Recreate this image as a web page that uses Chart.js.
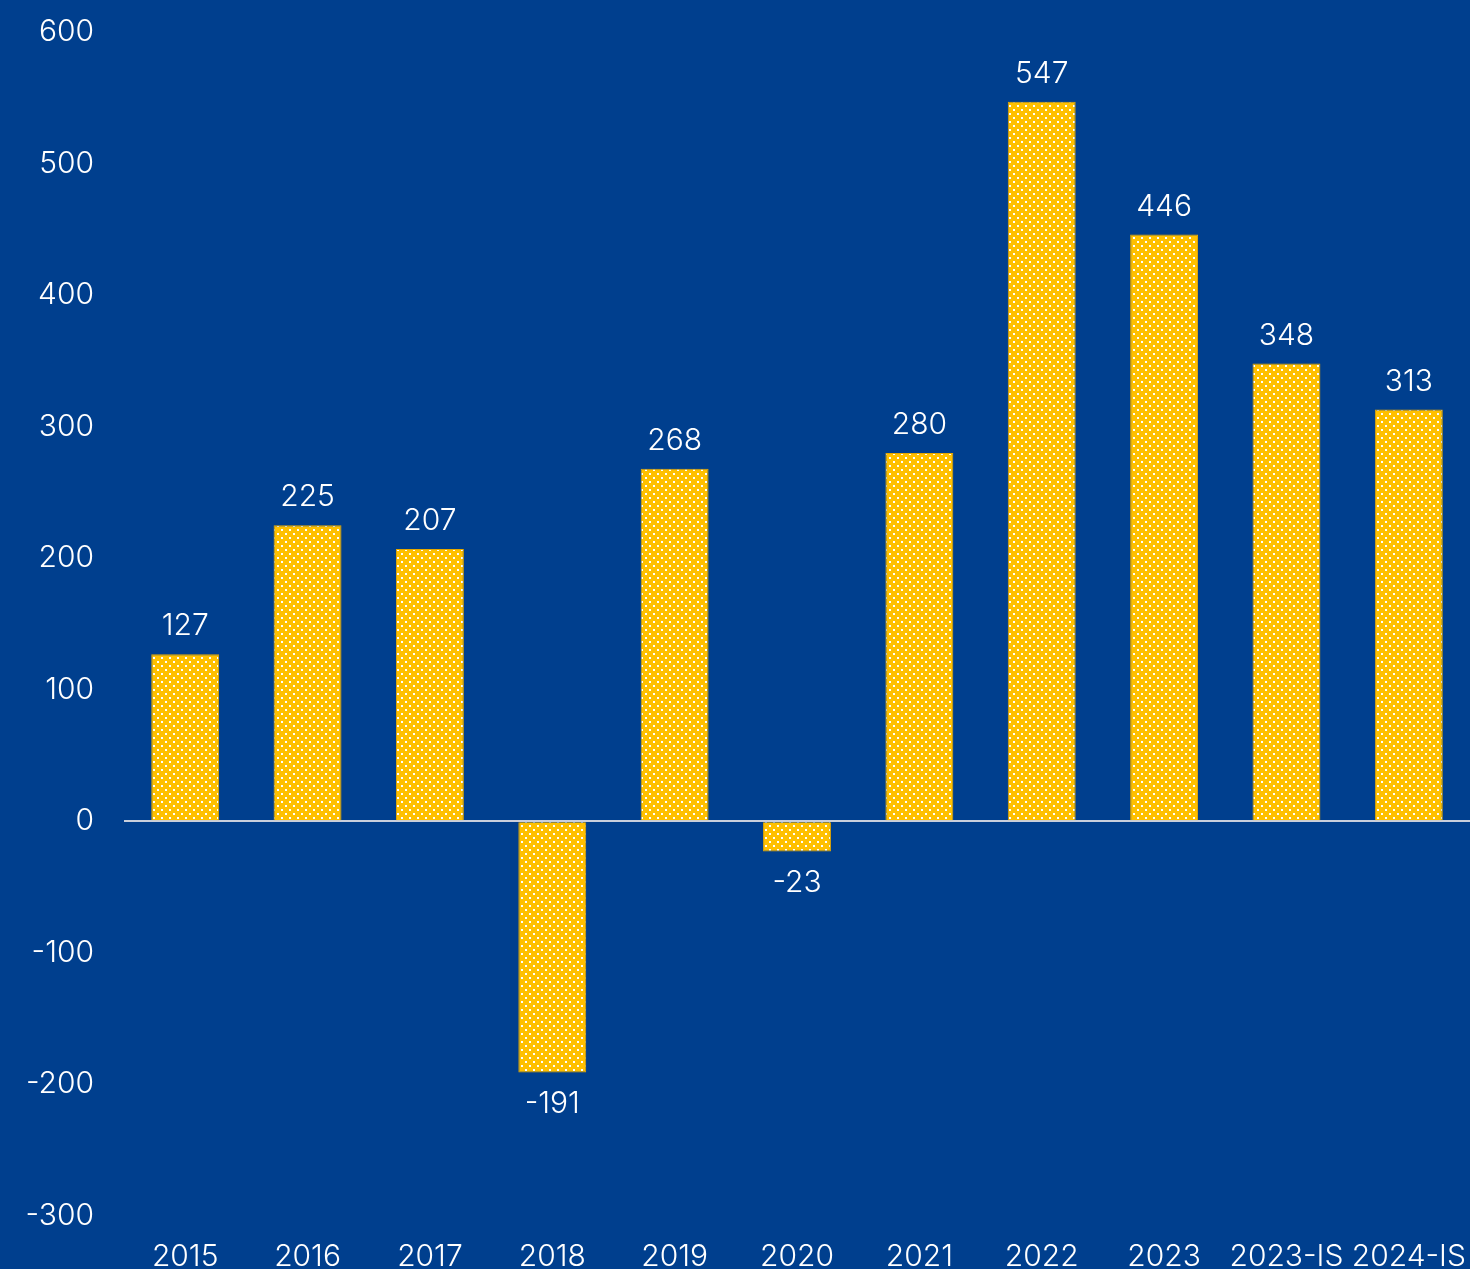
<!DOCTYPE html>
<html>
<head>
<meta charset="utf-8">
<script src="https://cdn.jsdelivr.net/npm/chart.js@4"></script>
<style>
  html, body { margin: 0; padding: 0; background: #003f8e; }
  #wrap { width: 1470px; height: 1269px; }
</style>
</head>
<body>
<div id="wrap"><canvas id="barras"></canvas></div>
<script>
// Categorías y valores
var anios = ['2015', '2016', '2017', '2018', '2019', '2020', '2021', '2022', '2023', '2023-IS', '2024-IS'];
var valores = [127, 225, 207, -191, 268, -23, 280, 547, 446, 348, 313];
var ticksY = [-300, -200, -100, 0, 100, 200, 300, 400, 500, 600];

var fuente = 'Inter, "Open Sans", sans-serif';
var peso = 300;

// Relleno amarillo con puntos blancos
function crearPatron() {
    var c = document.createElement('canvas');
    c.width = 8;
    c.height = 8;
    var p = c.getContext('2d');
    p.fillStyle = '#ffc000';
    p.fillRect(0, 0, 8, 8);
    p.fillStyle = '#ffffff';
    p.fillRect(1, 1, 2, 2);
    p.fillRect(5, 5, 2, 2);
    return p.createPattern(c, 'repeat');
}

// Etiquetas de valor encima / debajo de cada barra
var etiquetas = {
    id: 'etiquetas',
    afterDatasetsDraw: function (chart) {
        var ctx = chart.ctx;
        var meta = chart.getDatasetMeta(0);
        ctx.save();
        ctx.fillStyle = '#ffffff';
        ctx.font = peso + ' 30px ' + fuente;
        ctx.textAlign = 'center';
        ctx.textBaseline = 'middle';
        meta.data.forEach(function (bar, i) {
            var v = valores[i];
            var y = v >= 0 ? bar.y - 28 : bar.y + 31;
            ctx.fillText(String(v), bar.x, y);
        });
        ctx.restore();
    }
};

var ctx = document.getElementById('barras').getContext('2d');

var grafica = new Chart(ctx, {
    type: 'bar',
    data: {
        labels: anios,
        datasets: [{
            data: valores,
            backgroundColor: crearPatron(),
            borderColor: '#e5a800',
            borderWidth: 1,
            barPercentage: 0.555,
            categoryPercentage: 1
        }]
    },
    options: {
        responsive: true,
        maintainAspectRatio: false,
        animation: false,
        layout: { padding: { top: 32, right: 0, bottom: 0, left: 0 } },
        plugins: {
            legend: { display: false },
            tooltip: { enabled: false }
        },
        scales: {
            x: {
                grid: { display: false },
                border: { display: false },
                ticks: {
                    color: '#ffffff',
                    font: { family: fuente, size: 30, weight: peso },
                    padding: 15,
                    maxRotation: 0,
                    autoSkip: false
                },
                afterFit: function (s) {
                    s.height = 53;
                    s.paddingLeft = 0;
                    s.paddingRight = 0;
                }
            },
            y: {
                min: -300,
                max: 600,
                afterBuildTicks: function (s) {
                    s.ticks = ticksY.map(function (v) { return { value: v }; });
                },
                grid: {
                    drawTicks: false,
                    color: function (c) { return c.tick && c.tick.value === 0 ? '#c9cfdc' : 'rgba(0,0,0,0)'; },
                    lineWidth: function (c) { return c.tick && c.tick.value === 0 ? 2 : 0; }
                },
                border: { display: false },
                ticks: {
                    color: '#ffffff',
                    font: { family: fuente, size: 30, weight: peso },
                    padding: 30
                },
                afterFit: function (s) {
                    s.width = 124;
                    s.paddingTop = 0;
                    s.paddingBottom = 0;
                }
            }
        }
    },
    plugins: [etiquetas]
});
</script>
</body>
</html>
